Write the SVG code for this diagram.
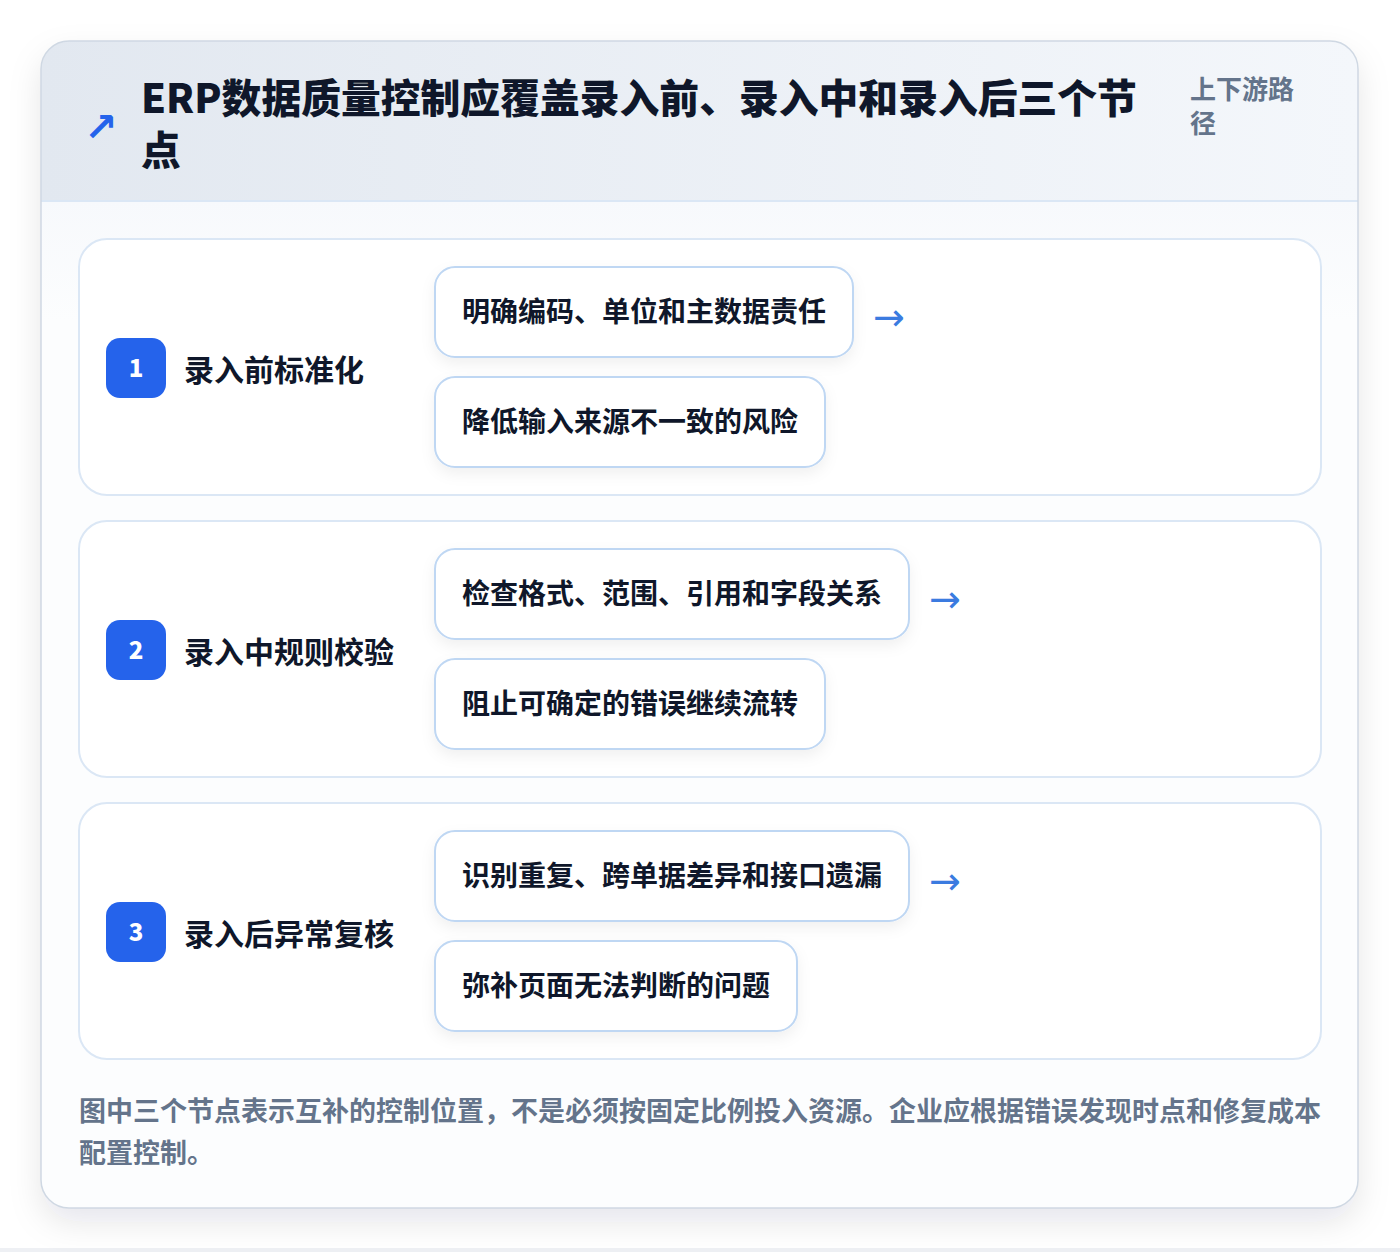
<svg xmlns="http://www.w3.org/2000/svg" width="1400" height="1252" viewBox="0 0 1400 1252">
<defs>
<linearGradient id="hdr" x1="0" y1="0" x2="1" y2="0">
<stop offset="0" stop-color="#e2e8f0"/>
<stop offset="1" stop-color="#f4f7fb"/>
</linearGradient>
<linearGradient id="bodyFade" x1="0" y1="0" x2="0" y2="1">
<stop offset="0" stop-color="#f7f9fc"/>
<stop offset="1" stop-color="#fcfdfe"/>
</linearGradient>
<filter id="cardShadow" x="-10%" y="-10%" width="120%" height="120%">
<feDropShadow dx="0" dy="14" stdDeviation="16" flood-color="#0f172a" flood-opacity="0.10"/>
</filter>
<filter id="pillShadow" x="-10%" y="-20%" width="120%" height="150%">
<feDropShadow dx="0" dy="6" stdDeviation="7" flood-color="#0f172a" flood-opacity="0.06"/>
</filter>
<clipPath id="cardClip"><rect x="41" y="41" width="1317" height="1167" rx="28"/></clipPath>
</defs>
<style>
text{font-family:"Noto Sans CJK SC","Noto Sans",sans-serif;}
.title{font-size:39.8px;font-weight:900;fill:#0f172a;}
.sub{font-size:26px;font-weight:700;fill:#64748b;}
.panel{fill:#ffffff;stroke:#dbe7f5;stroke-width:2;}
.badge{fill:#2563eb;}
.num{font-size:24px;font-weight:900;fill:#ffffff;text-anchor:middle;}
.lbl{font-size:30px;font-weight:700;fill:#0f172a;}
.pill{fill:#ffffff;stroke:#bfd7f3;stroke-width:2;}
.ptxt{font-size:28px;font-weight:700;fill:#0f172a;}
.arr{font-size:38px;fill:#3b7be0;font-family:"DejaVu Sans",sans-serif;}
.foot{font-size:27px;font-weight:700;fill:#64748b;}
</style>
<rect width="1400" height="1252" fill="#ffffff"/>
<rect x="0" y="1248" width="1400" height="4" fill="#eef0f4"/>
<g id="card">
<rect x="41" y="41" width="1317" height="1167" rx="28" fill="#fcfdfe" filter="url(#cardShadow)"/>
<g clip-path="url(#cardClip)">
<rect x="41" y="41" width="1317" height="160" fill="url(#hdr)"/>
<rect x="41" y="201" width="1317" height="120" fill="url(#bodyFade)"/>
<line x1="41" y1="201" x2="1358" y2="201" stroke="#dbe7f5" stroke-width="2"/>
</g>
<rect x="41" y="41" width="1317" height="1167" rx="28" fill="none" stroke="#cfd8e3" stroke-width="1.5"/>
</g>
<g id="header">
<text x="84" y="141" style="font-size:40px;font-weight:700;fill:#2563eb;font-family:'DejaVu Sans',sans-serif">↗</text>
<text class="title" x="141" y="113">ERP数据质量控制应覆盖录入前、录入中和录入后三个节</text>
<text class="title" x="141" y="165">点</text>
<text class="sub" x="1190" y="99">上下游路</text>
<text class="sub" x="1190" y="133">径</text>
</g>
<g id="row1">
<rect class="panel" x="79" y="239" width="1242" height="256" rx="28"/>
<rect class="badge" x="106" y="338" width="60" height="60" rx="14"/>
<text class="num" x="136" y="377">1</text>
<text class="lbl" x="184" y="381">录入前标准化</text>
</g>
<g id="row1-item1">
<rect class="pill" x="435" y="267" width="418" height="90" rx="20" filter="url(#pillShadow)"/>
<text class="ptxt" x="462" y="322">明确编码、单位和主数据责任</text>
</g>
<g id="row1-item2">
<rect class="pill" x="435" y="377" width="390" height="90" rx="20" filter="url(#pillShadow)"/>
<text class="ptxt" x="462" y="432">降低输入来源不一致的风险</text>
</g>
<g id="row2">
<rect class="panel" x="79" y="521" width="1242" height="256" rx="28"/>
<rect class="badge" x="106" y="620" width="60" height="60" rx="14"/>
<text class="num" x="136" y="659">2</text>
<text class="lbl" x="184" y="663">录入中规则校验</text>
</g>
<g id="row2-item1">
<rect class="pill" x="435" y="549" width="474" height="90" rx="20" filter="url(#pillShadow)"/>
<text class="ptxt" x="462" y="604">检查格式、范围、引用和字段关系</text>
</g>
<g id="row2-item2">
<rect class="pill" x="435" y="659" width="390" height="90" rx="20" filter="url(#pillShadow)"/>
<text class="ptxt" x="462" y="714">阻止可确定的错误继续流转</text>
</g>
<g id="row3">
<rect class="panel" x="79" y="803" width="1242" height="256" rx="28"/>
<rect class="badge" x="106" y="902" width="60" height="60" rx="14"/>
<text class="num" x="136" y="941">3</text>
<text class="lbl" x="184" y="945">录入后异常复核</text>
</g>
<g id="row3-item1">
<rect class="pill" x="435" y="831" width="474" height="90" rx="20" filter="url(#pillShadow)"/>
<text class="ptxt" x="462" y="886">识别重复、跨单据差异和接口遗漏</text>
</g>
<g id="row3-item2">
<rect class="pill" x="435" y="941" width="362" height="90" rx="20" filter="url(#pillShadow)"/>
<text class="ptxt" x="462" y="996">弥补页面无法判断的问题</text>
</g>
<g id="connectors">
<text class="arr" x="873" y="330">→</text>
<text class="arr" x="929" y="612">→</text>
<text class="arr" x="929" y="894">→</text>
</g>
<g id="footer">
<text class="foot" x="79" y="1121">图中三个节点表示互补的控制位置，不是必须按固定比例投入资源。企业应根据错误发现时点和修复成本</text>
<text class="foot" x="79" y="1163">配置控制。</text>
</g>
</svg>
